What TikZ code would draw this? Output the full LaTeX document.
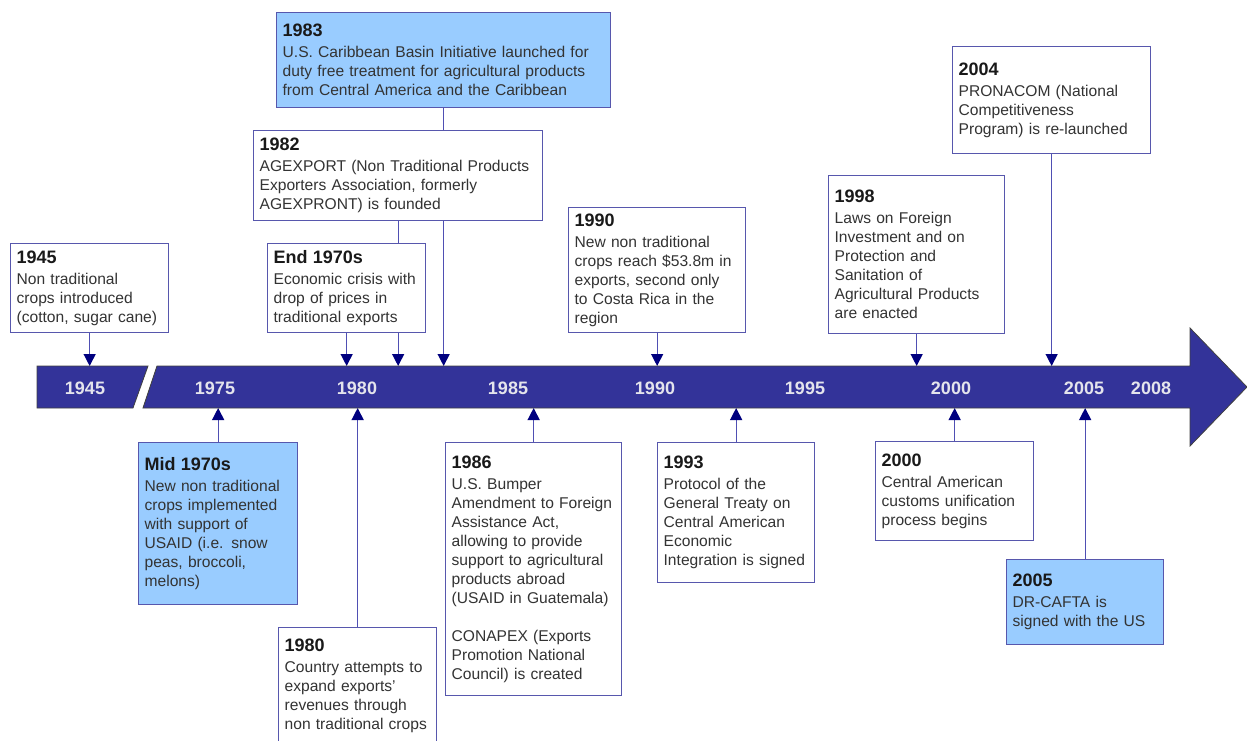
\documentclass[tikz,border=0pt]{standalone}
\usepackage{fontspec}
\setmainfont{Liberation Sans}
\usetikzlibrary{arrows.meta}
\definecolor{bandblue}{HTML}{333399}
\definecolor{boxline}{HTML}{5757AD}
\definecolor{connline}{HTML}{4F4FB3}
\definecolor{tipnavy}{HTML}{00007F}
\definecolor{hiblue}{HTML}{99CCFF}
\definecolor{bodytext}{HTML}{333333}
\definecolor{yeargray}{HTML}{E4E4EC}
\newcommand{\bodyfont}{\fontsize{15.6}{19}\selectfont}
\newcommand{\titlefont}{\fontsize{18}{21}\selectfont\bfseries\color{black!90}}
\newcommand{\yearfont}{\fontsize{18}{21}\selectfont\bfseries}
\pgfdeclarelayer{bg}
\pgfsetlayers{bg,main}
\tikzset{
  evbox/.style 2 args={draw=boxline, line width=1.3pt, fill=white, anchor=north west,
    align=left, inner xsep=6pt, inner ysep=0pt, text width=#1, minimum height=#2,
    font=\bodyfont, text=bodytext},
  hibox/.style 2 args={evbox={#1}{#2}, fill=hiblue},
  conn/.style={draw=connline, line width=1.3pt, -{Triangle[length=12pt,width=12pt,color=tipnavy]}},
  yearlbl/.style={font=\yearfont, text=yeargray}
}
\begin{document}
\begin{tikzpicture}[x=1pt,y=-1pt]
\useasboundingbox (0,0) rectangle (1247,741);

\filldraw[fill=bandblue, draw=black!75, line width=0.8pt] (37,366) -- (148,366) -- (133,408) -- (37,408) -- cycle;
\filldraw[fill=bandblue, draw=black!75, line width=0.8pt] (157,366) -- (1190,366) -- (1190,328) -- (1247,387)
  -- (1190,446) -- (1190,408) -- (143,408) -- cycle;
\coordinate (bandtop) at (0,366);
\coordinate (bandbot) at (0,408);

\foreach \yr/\xp in {1945/85,1975/215,1980/357,1985/508,1990/655,1995/805,2000/951,2005/1084,2008/1151}
  \node[yearlbl] (lbl\yr) at (\xp,388) {\yr};

\node[hibox={322pt}{95pt}] (e1983) at (276,12) {{\titlefont 1983}\\[2pt]
  U.S. Caribbean Basin Initiative launched for\\ duty free treatment for agricultural products\\
  from Central America and the Caribbean};
\node[evbox={277pt}{90pt}] (e1982) at (253,130) {{\titlefont 1982}\\[2pt]
  AGEXPORT (Non Traditional Products\\ Exporters Association, formerly\\ AGEXPRONT) is founded};
\node[evbox={146pt}{89pt}] (eend70) at (267,243) {{\titlefont End 1970s}\\[2pt]
  Economic crisis with\\ drop of prices in\\ traditional exports};
\node[evbox={146pt}{89pt}] (e1945) at (10,243) {{\titlefont 1945}\\[2pt]
  Non traditional\\ crops introduced\\ (cotton, sugar cane)};
\node[evbox={165pt}{125pt}] (e1990) at (568,207) {{\titlefont 1990}\\[2pt]
  New non traditional\\ crops reach \$53.8m in\\ exports, second only\\ to Costa Rica in the\\ region};
\node[evbox={164pt}{158pt}] (e1998) at (828,175) {{\titlefont 1998}\\[2pt]
  Laws on Foreign\\ Investment and on\\ Protection and\\ Sanitation of\\ Agricultural Products\\ are enacted};
\node[evbox={186pt}{107pt}] (e2004) at (952,46) {{\titlefont 2004}\\[2pt]
  PRONACOM (National\\ Competitiveness\\ Program) is re-launched};

\node[hibox={147pt}{162pt}] (emid70) at (138,442) {{\titlefont Mid 1970s}\\[2pt]
  New non traditional\\ crops implemented\\ with support of\\ USAID (i.e. snow\\ peas, broccoli,\\ melons)};
\node[evbox={146pt}{116pt}] (e1980) at (278,627) {{\titlefont 1980}\\[2pt]
  Country attempts to\\ expand exports’\\ revenues through\\ non traditional crops};
\node[evbox={164pt}{253pt}] (e1986) at (445,442) {{\titlefont 1986}\\[2pt]
  U.S. Bumper\\ Amendment to Foreign\\ Assistance Act,\\ allowing to provide\\ support to agricultural\\
  products abroad\\ (USAID in Guatemala)\\[19pt] CONAPEX (Exports\\ Promotion National\\ Council) is created};
\node[evbox={145pt}{140pt}] (e1993) at (657,442) {{\titlefont 1993}\\[2pt]
  Protocol of the\\ General Treaty on\\ Central American\\ Economic\\ Integration is signed};
\node[evbox={146pt}{99pt}] (e2000) at (875,441) {{\titlefont 2000}\\[2pt]
  Central American\\ customs unification\\ process begins};
\node[hibox={145pt}{85pt}] (e2005) at (1006,559) {{\titlefont 2005}\\[2pt]
  DR-CAFTA is\\ signed with the US};

\begin{pgfonlayer}{bg}
  \foreach \ev in {e1945,eend70,e1982,e1983,e1990,e1998,e2004}
    \draw[conn] (\ev.south) -- (\ev.south |- bandtop);
  \foreach \ev in {emid70,e1980,e1986,e1993,e2000,e2005}
    \draw[conn] (\ev.north) -- (\ev.north |- bandbot);
\end{pgfonlayer}
\end{tikzpicture}
\end{document}
